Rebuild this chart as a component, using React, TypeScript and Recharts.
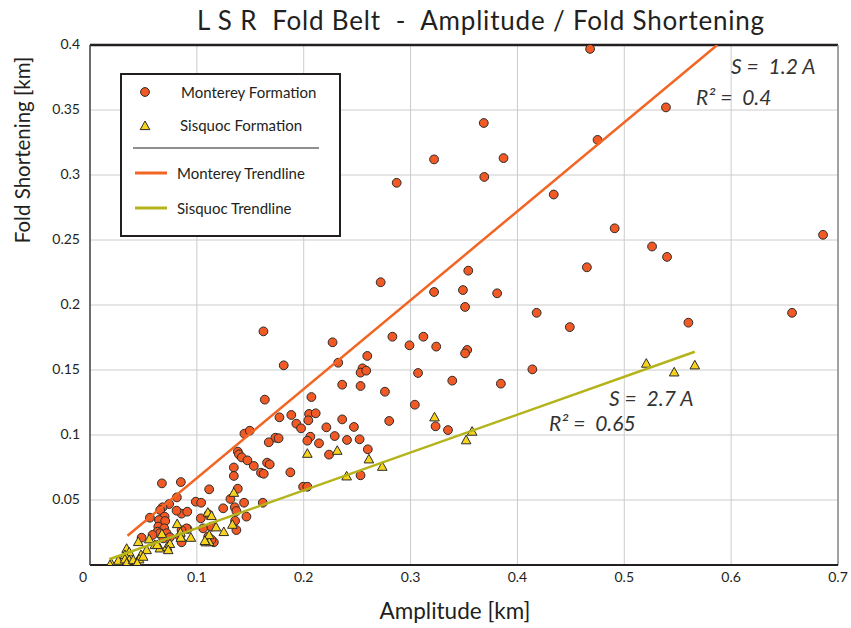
import React from "react";
import {
    ScatterChart,
    Scatter,
    XAxis,
    YAxis,
    CartesianGrid,
    ReferenceLine,
    Legend,
} from "recharts";

// amplitude [km], fold shortening [km]
const montereyPoints: [number, number][] = [
    [0.468, 0.397], [0.3685, 0.34], [0.322, 0.312], [0.387, 0.313], [0.539, 0.352],
    [0.475, 0.327], [0.287, 0.294], [0.369, 0.2985], [0.434, 0.285], [0.491, 0.259],
    [0.686, 0.254], [0.526, 0.245], [0.54, 0.237], [0.465, 0.229], [0.272, 0.2175],
    [0.354, 0.2264], [0.322, 0.21], [0.349, 0.2115], [0.381, 0.209], [0.351, 0.1985],
    [0.418, 0.194], [0.657, 0.194], [0.56, 0.1864], [0.449, 0.183], [0.283, 0.1756],
    [0.312, 0.1756], [0.299, 0.169], [0.324, 0.168], [0.353, 0.1654], [0.351, 0.1628],
    [0.307, 0.1477], [0.414, 0.1505], [0.339, 0.1418], [0.3845, 0.1395], [0.276, 0.1333],
    [0.304, 0.1233], [0.28, 0.1108], [0.3234, 0.1067], [0.335, 0.1038], [0.1623, 0.1797],
    [0.227, 0.1713], [0.2323, 0.1556], [0.2595, 0.1608], [0.1813, 0.1536], [0.255, 0.1513],
    [0.2532, 0.148], [0.2585, 0.1495], [0.236, 0.1387], [0.2532, 0.1377], [0.1636, 0.1272],
    [0.2072, 0.1292], [0.1773, 0.1136], [0.1884, 0.1154], [0.205, 0.1162], [0.2112, 0.1167],
    [0.1931, 0.1087], [0.1975, 0.1051], [0.2043, 0.1113], [0.2212, 0.1059], [0.236, 0.112],
    [0.247, 0.1062], [0.1445, 0.101], [0.1495, 0.1033], [0.1735, 0.0979], [0.1765, 0.0975],
    [0.1673, 0.0944], [0.2062, 0.0987], [0.2034, 0.0956], [0.2143, 0.0936], [0.229, 0.0992],
    [0.2405, 0.0962], [0.2523, 0.0967], [0.26, 0.089], [0.2237, 0.0849], [0.2532, 0.069],
    [0.1383, 0.0872], [0.1394, 0.0851], [0.142, 0.0828], [0.1473, 0.0805], [0.1533, 0.0762],
    [0.1657, 0.0787], [0.1682, 0.0774], [0.16, 0.071], [0.1626, 0.0702], [0.1875, 0.0713],
    [0.1346, 0.075], [0.1346, 0.0685], [0.1383, 0.0587], [0.1115, 0.0582], [0.085, 0.0638],
    [0.1994, 0.0602], [0.2034, 0.0602], [0.0673, 0.0628], [0.0813, 0.052], [0.099, 0.0487],
    [0.104, 0.0479], [0.1314, 0.0508], [0.1246, 0.0436], [0.1355, 0.0444], [0.137, 0.0415],
    [0.1442, 0.0479], [0.1464, 0.0372], [0.1617, 0.0479], [0.1358, 0.034], [0.137, 0.0269],
    [0.111, 0.039], [0.1037, 0.0359], [0.1059, 0.0282], [0.1136, 0.0295], [0.1159, 0.0175],
    [0.0913, 0.0277], [0.0857, 0.0395], [0.091, 0.041], [0.081, 0.0418], [0.0741, 0.0469],
    [0.0679, 0.0444], [0.0657, 0.0423], [0.0561, 0.0364], [0.0698, 0.0372], [0.0645, 0.0346],
    [0.0704, 0.0338], [0.0639, 0.0295], [0.0695, 0.0282], [0.0632, 0.0256], [0.0654, 0.0244],
    [0.0717, 0.0244], [0.0585, 0.0231], [0.0685, 0.0205], [0.0748, 0.0213], [0.0857, 0.0175],
    [0.0841, 0.0218], [0.0483, 0.021], [0.1106, 0.0218], [0.1137, 0.0195], [0.0903, 0.0282],
    [0.0857, 0.0267],
];

const sisquocPoints: [number, number][] = [
    [0.3224, 0.1136], [0.3576, 0.1026], [0.352, 0.096], [0.2735, 0.0756], [0.5206, 0.1549],
    [0.5467, 0.1482], [0.566, 0.1536], [0.2034, 0.0856], [0.2314, 0.0879], [0.261, 0.0813],
    [0.2402, 0.0682], [0.1346, 0.0556], [0.1103, 0.0403], [0.0816, 0.0315], [0.118, 0.029],
    [0.1252, 0.0254], [0.1333, 0.031], [0.11, 0.02], [0.1115, 0.0177], [0.1084, 0.0175],
    [0.0673, 0.0238], [0.0554, 0.0198], [0.0607, 0.0154], [0.0654, 0.0128], [0.0722, 0.0141],
    [0.0748, 0.0162], [0.0732, 0.0115], [0.0847, 0.0249], [0.0452, 0.0177], [0.0343, 0.0125],
    [0.0367, 0.0098], [0.0265, 0.0025], [0.0202, 0.0008], [0.0436, 0.002], [0.0477, 0.0077],
    [0.053, 0.0115], [0.0327, 0.0077], [0.0367, 0.0038], [0.1137, 0.0377], [0.085, 0.021],
    [0.0944, 0.021], [0.1115, 0.023], [0.1075, 0.0185], [0.0629, 0.0154], [0.0187, 0.0],
    [0.0265, 0.0033], [0.0327, 0.0044], [0.0343, 0.0013], [0.0405, 0.0038], [0.046, 0.0044],
    [0.0442, 0.0013], [0.0498, 0.0064],
];

// fitted trendline end points
const montereyTrend: [number, number][] = [[0.0351, 0.0225], [0.587, 0.4]];
const sisquocTrend: [number, number][] = [[0.018, 0.0044], [0.566, 0.164]];

const xTicks = [0, 0.1, 0.2, 0.3, 0.4, 0.5, 0.6, 0.7];
const yTicks = [0, 0.05, 0.1, 0.15, 0.2, 0.25, 0.3, 0.35, 0.4];

const FONT = "Lato, 'Open Sans', sans-serif";
const ORANGE = "#f15a24";
const ORANGE_LINE = "#f26522";
const YELLOW = "#f7d31b";
const OLIVE = "#b4b31a";
const INK = "#231f20";

const toRows = (pts: [number, number][]) => pts.map(([amp, short]) => ({ amp, short }));

const Dot = (p: any) => (
    <circle cx={p.cx} cy={p.cy} r={4.4} fill={ORANGE} stroke="#2b2b2b" strokeWidth={1} />
);

const Tri = (p: any) => (
    <polygon
        points={`${p.cx},${p.cy - 5} ${p.cx - 4.8},${p.cy + 3.6} ${p.cx + 4.8},${p.cy + 3.6}`}
        fill={YELLOW}
        stroke="#2b2b2b"
        strokeWidth={1}
    />
);

const NoShape = () => <g />;

const XTick = (p: any) => {
    const v = p.payload.value;
    return (
        <text x={p.x - (v === 0 ? 7 : 0)} y={p.y + 9} textAnchor="middle" fontSize={14} fill={INK} fontFamily={FONT}>
            {v}
        </text>
    );
};

const YTick = (p: any) => {
    const v = p.payload.value;
    if (v === 0) return <g />;
    return (
        <text x={p.x} y={p.y + 4} textAnchor="end" fontSize={14} fill={INK} fontFamily={FONT}>
            {v}
        </text>
    );
};

function LegendBox() {
    return (
        <div
            style={{
                position: "absolute",
                left: 120,
                top: 73,
                width: 217,
                height: 160,
                border: `2px solid ${INK}`,
                background: "#fff",
                fontFamily: FONT,
                fontSize: 15,
                color: INK,
                lineHeight: 1,
            }}
        >
            <svg width={217} height={160} style={{ position: "absolute", left: 0, top: 0 }}>
                <Dot cx={23} cy={17} />
                <Tri cx={23} cy={51} />
                <line x1={11} x2={197} y1={73} y2={73} stroke={INK} strokeWidth={1} />
                <line x1={13} x2={45} y1={98} y2={98} stroke={ORANGE_LINE} strokeWidth={3} />
                <line x1={13} x2={45} y1={133} y2={133} stroke={OLIVE} strokeWidth={3} />
            </svg>
            <div style={{ position: "absolute", left: 59, top: 10 }}>Monterey Formation</div>
            <div style={{ position: "absolute", left: 58, top: 43 }}>Sisquoc Formation</div>
            <div style={{ position: "absolute", left: 55, top: 91 }}>Monterey Trendline</div>
            <div style={{ position: "absolute", left: 55, top: 126 }}>Sisquoc Trendline</div>
        </div>
    );
}

const note: React.CSSProperties = {
    position: "absolute",
    fontFamily: FONT,
    fontStyle: "italic",
    fontSize: 21,
    color: "#333",
    whiteSpace: "pre",
    lineHeight: 1,
};

export default function App() {
    return (
        <div style={{ position: "absolute", left: 0, top: 0, width: 851, height: 628, background: "#fff" }}>
            <ScatterChart width={851} height={628} margin={{ top: 45, right: 13, left: 30, bottom: 33 }}>
                <CartesianGrid
                    horizontal={{ stroke: "#2b2b2b", strokeWidth: 1 }}
                    vertical={{ stroke: "#6e6e6e", strokeWidth: 1 }}
                    horizontalValues={yTicks}
                    verticalValues={xTicks}
                />
                <XAxis
                    type="number"
                    dataKey="amp"
                    domain={[0, 0.7]}
                    ticks={xTicks}
                    height={30}
                    axisLine={{ stroke: INK, strokeWidth: 2 }}
                    tickLine={false}
                    tick={<XTick />}
                    allowDataOverflow
                />
                <YAxis
                    type="number"
                    dataKey="short"
                    domain={[0, 0.4]}
                    ticks={yTicks}
                    width={60}
                    axisLine={{ stroke: "#444", strokeWidth: 1.5 }}
                    tickLine={false}
                    tick={<YTick />}
                    tickMargin={4}
                    allowDataOverflow
                />
                <ReferenceLine y={0.4} stroke={INK} strokeWidth={2.5} />
                <ReferenceLine x={0.7} stroke="#8a8a8a" strokeWidth={1.5} />
                <Scatter name="Monterey Formation" data={toRows(montereyPoints)} shape={Dot} isAnimationActive={false} />
                <Scatter name="Sisquoc Formation" data={toRows(sisquocPoints)} shape={Tri} isAnimationActive={false} />
                <Scatter
                    name="Monterey Trendline"
                    data={toRows(montereyTrend)}
                    shape={NoShape}
                    line={{ stroke: ORANGE_LINE, strokeWidth: 2.5 }}
                    isAnimationActive={false}
                />
                <Scatter
                    name="Sisquoc Trendline"
                    data={toRows(sisquocTrend)}
                    shape={NoShape}
                    line={{ stroke: OLIVE, strokeWidth: 2.5 }}
                    isAnimationActive={false}
                />
                <Legend content={() => null} />
            </ScatterChart>

            <LegendBox />

            <div
                style={{
                    position: "absolute",
                    left: 197,
                    top: 4,
                    fontFamily: FONT,
                    fontSize: 26,
                    letterSpacing: 0.8,
                    color: INK,
                    whiteSpace: "pre",
                }}
            >
                {"L S R  Fold Belt  -  Amplitude / Fold Shortening"}
            </div>
            <div
                style={{
                    position: "absolute",
                    left: 455,
                    top: 610,
                    transform: "translate(-50%, -50%)",
                    fontFamily: FONT,
                    fontSize: 22.5,
                    color: INK,
                    whiteSpace: "nowrap",
                }}
            >
                Amplitude [km]
            </div>
            <div
                style={{
                    position: "absolute",
                    left: 22,
                    top: 150,
                    transform: "translate(-50%, -50%) rotate(-90deg)",
                    fontFamily: FONT,
                    fontSize: 20.5,
                    color: INK,
                    whiteSpace: "nowrap",
                }}
            >
                Fold Shortening [km]
            </div>

            <div style={{ ...note, left: 731, top: 55 }}>{"S =  1.2 A"}</div>
            <div style={{ ...note, left: 696, top: 86 }}>{"R² =  0.4"}</div>
            <div style={{ ...note, left: 609, top: 387 }}>{"S =  2.7 A"}</div>
            <div style={{ ...note, left: 549, top: 412 }}>{"R² =  0.65"}</div>
        </div>
    );
}
